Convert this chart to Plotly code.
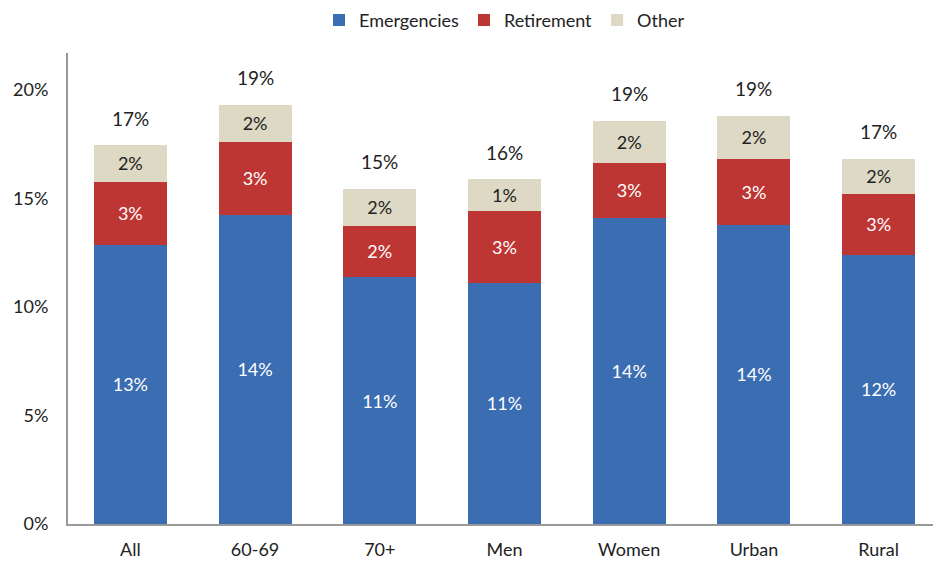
import plotly.graph_objects as go

categories = ["All", "60-69", "70+", "Men", "Women", "Urban", "Rural"]
emergencies = [12.87, 14.24, 11.38, 11.12, 14.12, 13.78, 12.40]
retirement = [2.90, 3.38, 2.35, 3.30, 2.53, 3.04, 2.81]
other = [1.69, 1.69, 1.71, 1.47, 1.92, 1.98, 1.61]
emergencies_labels = ["13%", "14%", "11%", "11%", "14%", "14%", "12%"]
retirement_labels = ["3%", "3%", "2%", "3%", "3%", "3%", "3%"]
other_labels = ["2%", "2%", "2%", "1%", "2%", "2%", "2%"]
total_labels = ["17%", "19%", "15%", "16%", "19%", "19%", "17%"]
y_ticks = [0, 5, 10, 15, 20]
y_tick_labels = ["0%", "5%", "10%", "15%", "20%"]

FONT = "Lato, 'Open Sans', sans-serif"
totals = [e + r + o for e, r, o in zip(emergencies, retirement, other)]

fig = go.Figure()
fig.add_trace(go.Bar(
    x=categories, y=emergencies, name="Emergencies",
    marker=dict(color="#3a6db2", line=dict(width=0)),
    text=emergencies_labels, textposition="inside", insidetextanchor="middle",
    textfont=dict(color="white", size=18, family=FONT),
))
fig.add_trace(go.Bar(
    x=categories, y=retirement, name="Retirement",
    marker=dict(color="#bd3634", line=dict(width=0)),
    text=retirement_labels, textposition="inside", insidetextanchor="middle",
    textfont=dict(color="white", size=18, family=FONT),
))
fig.add_trace(go.Bar(
    x=categories, y=other, name="Other",
    marker=dict(color="#ddd9c4", line=dict(width=0)),
    text=other_labels, textposition="inside", insidetextanchor="middle",
    textfont=dict(color="#222222", size=18, family=FONT),
))

# total labels above each stack
for cat, tot, lab in zip(categories, totals, total_labels):
    fig.add_annotation(
        x=cat, y=tot, text=lab, showarrow=False,
        yanchor="middle", yshift=27,
        font=dict(color="#222222", size=19, family=FONT),
    )

# page body has an 8px margin, so the figure is 8px smaller than the window
fig.update_layout(
    barmode="stack",
    bargap=0.415,
    width=933, height=555,
    margin=dict(l=60, r=0, t=45, b=39),
    plot_bgcolor="white", paper_bgcolor="white",
    font=dict(family=FONT, size=18, color="#222222"),
    uniformtext=dict(mode="show", minsize=16),
    legend=dict(
        orientation="h", x=0.5, xanchor="center", y=0.978, yanchor="middle",
        yref="container", font=dict(size=18, family=FONT),
        traceorder="normal",
    ),
    xaxis=dict(
        showline=True, linecolor="#999999", linewidth=2,
        ticks="", tickfont=dict(size=18, family=FONT), showgrid=False,
        ticklabelstandoff=8,
    ),
    yaxis=dict(
        range=[0, 21.7], tickvals=y_ticks, ticktext=y_tick_labels,
        showline=True, linecolor="#999999", linewidth=2,
        showgrid=False, zeroline=False, ticks="",
        tickfont=dict(size=18, family=FONT), ticklabelstandoff=14,
    ),
)

fig.write_html("out.html")
